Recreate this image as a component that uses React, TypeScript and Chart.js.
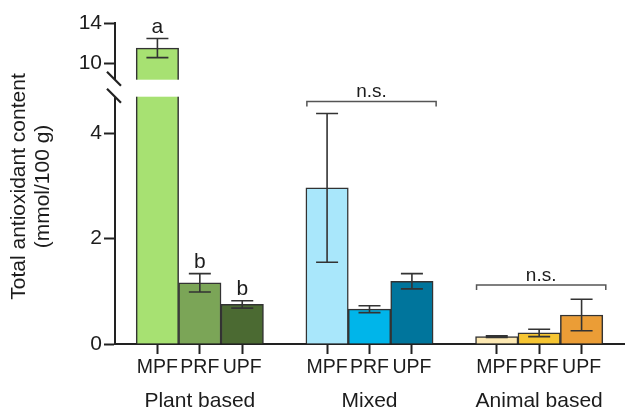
import { useEffect, useRef } from 'react';
import { Chart, registerables } from 'chart.js';

Chart.register(...registerables);

// ---- data ----
const groups = ['Plant based', 'Mixed', 'Animal based'];
const types = ['MPF', 'PRF', 'UPF'];

const plantMeans = [11.5, 1.16, 0.75];
const plantSD = [0.95, 0.175, 0.07];
const mixedMeans = [2.96, 0.66, 1.19];
const mixedSD = [1.41, 0.065, 0.145];
const animalMeans = [0.14, 0.21, 0.55];
const animalSD = [0.015, 0.07, 0.3];

const plantLetters = ['a', 'b', 'b'];
const mixedLetters = ['', '', ''];
const animalLetters = ['', '', ''];

const plantColors = ['#a7e172', '#7ba557', '#4b6a32'];
const mixedColors = ['#a9e7fb', '#00b5ea', '#00759c'];
const animalColors = ['#fde9b3', '#f6c532', '#eb9d36'];

const bracketGroups = [1, 2]; // Mixed, Animal based
const bracketLevels = [4.6, 1.12];
const bracketTexts = ['n.s.', 'n.s.'];

const lowerRange = [0, 4.87];
const upperRange = [7.6, 14];
const lowerTicks = [0, 2, 4];
const upperTicks = [10, 14];

const yTitle = ['Total antioxidant content', '(mmol/100 g)'];

// ---- build category table ----
const allMeans = [plantMeans, mixedMeans, animalMeans];
const allSD = [plantSD, mixedSD, animalSD];
const allColors = [plantColors, mixedColors, animalColors];
const allLetters = [plantLetters, mixedLetters, animalLetters];

const labels: string[] = [''];
const values: (number | null)[] = [null];
const sds: (number | null)[] = [null];
const colors: string[] = ['rgba(0,0,0,0)'];
const letters: string[] = [''];
const groupOf: number[] = [-1];
groups.forEach((_, g) => {
  types.forEach((t, i) => {
    labels.push(t);
    values.push(allMeans[g][i]);
    sds.push(allSD[g][i]);
    colors.push(allColors[g][i]);
    letters.push(allLetters[g][i]);
    groupOf.push(g);
  });
  labels.push('');
  values.push(null);
  sds.push(null);
  colors.push('rgba(0,0,0,0)');
  letters.push('');
  groupOf.push(-1);
});

const FONT = "'Liberation Sans', Arial, Helvetica, sans-serif";
const INK = '#1c1c1c';
const AXIS = '#222';
const BAR_BORDER = '#333';

const clipPlugin = {
  id: 'scaleClip',
  beforeDatasetDraw(chart: any, args: any) {
    const ys = args.meta.yScale;
    const ca = chart.chartArea;
    const ctx = chart.ctx;
    ctx.save();
    ctx.beginPath();
    ctx.rect(ca.left - 2, ys.top, ca.right - ca.left + 4, ys.bottom - ys.top);
    ctx.clip();
  },
  afterDatasetDraw(chart: any) {
    chart.ctx.restore();
  },
};

const overlayPlugin = {
  id: 'overlay',
  afterDatasetsDraw(chart: any) {
    const ctx = chart.ctx;
    const xs = chart.scales.x;
    const yLow = chart.scales.y;
    const yHigh = chart.scales.yTop;
    const ca = chart.chartArea;
    const pix = (v: number) => (v >= upperRange[0] ? yHigh.getPixelForValue(v) : yLow.getPixelForValue(v));
    const half = (xs.getPixelForValue(1) - xs.getPixelForValue(0)) / 2;

    // error bars, clipped per scale segment
    const capHalf = 11;
    [yLow, yHigh].forEach((sc: any) => {
      ctx.save();
      ctx.beginPath();
      ctx.rect(ca.left, sc.top, ca.right - ca.left, sc.bottom - sc.top);
      ctx.clip();
      ctx.strokeStyle = BAR_BORDER;
      ctx.lineWidth = 1.6;
      values.forEach((v, i) => {
        if (v == null) return;
        const sd = sds[i] as number;
        const x = xs.getPixelForValue(i);
        const yTopPx = sc.getPixelForValue(v + sd);
        const yBotPx = sc.getPixelForValue(v - sd);
        ctx.beginPath();
        ctx.moveTo(x, yTopPx);
        ctx.lineTo(x, yBotPx);
        ctx.moveTo(x - capHalf, yTopPx);
        ctx.lineTo(x + capHalf, yTopPx);
        ctx.moveTo(x - capHalf, yBotPx);
        ctx.lineTo(x + capHalf, yBotPx);
        ctx.stroke();
      });
      ctx.restore();
    });

    // axis break gap (over axis and over bars crossing the break)
    const boundary = yLow.top;
    const gapTop = boundary - 7.5;
    const gapBottom = boundary + 9.5;
    const ax = ca.left;
    ctx.save();
    ctx.fillStyle = '#ffffff';
    ctx.fillRect(ax - 4, gapTop, 8, gapBottom - gapTop);
    values.forEach((v, i) => {
      if (v == null || v <= lowerRange[1]) return;
      const x = xs.getPixelForValue(i);
      ctx.fillRect(x - half - 2, gapTop, 2 * half + 4, gapBottom - gapTop);
    });
    ctx.strokeStyle = AXIS;
    ctx.lineWidth = 2.2;
    [gapTop, gapBottom].forEach((gy) => {
      ctx.beginPath();
      ctx.moveTo(ax - 8, gy - 8);
      ctx.lineTo(ax + 6, gy + 6);
      ctx.stroke();
    });
    ctx.restore();

    // significance letters
    ctx.save();
    ctx.fillStyle = INK;
    ctx.font = `21px ${FONT}`;
    ctx.textAlign = 'center';
    ctx.textBaseline = 'alphabetic';
    values.forEach((v, i) => {
      if (v == null || !letters[i]) return;
      const sd = sds[i] as number;
      const x = xs.getPixelForValue(i);
      ctx.fillText(letters[i], x, pix(v + sd) - 6);
    });
    ctx.restore();

    // brackets
    ctx.save();
    ctx.strokeStyle = '#555';
    ctx.lineWidth = 1.5;
    ctx.fillStyle = INK;
    ctx.font = `19px ${FONT}`;
    ctx.textAlign = 'center';
    ctx.textBaseline = 'alphabetic';
    bracketGroups.forEach((g, k) => {
      const idx = groupOf.map((gg, i) => (gg === g ? i : -1)).filter((i) => i >= 0);
      const x0 = xs.getPixelForValue(idx[0]) - half + 1;
      const x1 = xs.getPixelForValue(idx[idx.length - 1]) + half + 3;
      const y = pix(bracketLevels[k]);
      ctx.beginPath();
      ctx.moveTo(x0, y + 5);
      ctx.lineTo(x0, y);
      ctx.lineTo(x1, y);
      ctx.lineTo(x1, y + 5);
      ctx.stroke();
      ctx.fillText(bracketTexts[k], (x0 + x1) / 2, y - 4);
    });
    ctx.restore();
  },
  afterDraw(chart: any) {
    const ctx = chart.ctx;
    const xs = chart.scales.x;
    const ca = chart.chartArea;
    // group labels
    ctx.save();
    ctx.fillStyle = INK;
    ctx.font = `21px ${FONT}`;
    ctx.textAlign = 'center';
    ctx.textBaseline = 'middle';
    groups.forEach((name, g) => {
      const idx = groupOf.map((gg, i) => (gg === g ? i : -1)).filter((i) => i >= 0);
      const mid = idx[Math.floor(idx.length / 2)];
      ctx.fillText(name, xs.getPixelForValue(mid), ca.bottom + 57);
    });
    ctx.restore();

    // y title
    ctx.save();
    ctx.fillStyle = INK;
    ctx.font = `21px ${FONT}`;
    ctx.textAlign = 'center';
    ctx.textBaseline = 'middle';
    const cy = (ca.top + ca.bottom) / 2 + 3;
    const lineXs = [19, 43];
    yTitle.forEach((line, k) => {
      ctx.save();
      ctx.translate(lineXs[k], cy);
      ctx.rotate(-Math.PI / 2);
      ctx.fillText(line, 0, 0);
      ctx.restore();
    });
    ctx.restore();
  },
};

export default function App() {
  const canvasRef = useRef<HTMLCanvasElement | null>(null);

  useEffect(() => {
    if (!canvasRef.current) return;
    const yCommon = (range: number[], tickVals: number[], weight: number) => ({
      type: 'linear' as const,
      position: 'left' as const,
      stack: 'v',
      stackWeight: weight,
      min: range[0],
      max: range[1],
      afterBuildTicks: (s: any) => {
        s.ticks = tickVals.map((v) => ({ value: v }));
      },
      afterFit: (s: any) => {
        s.width = 115;
      },
      border: { color: AXIS, width: 2 },
      grid: { drawOnChartArea: false, tickLength: 11, tickWidth: 2, color: AXIS },
      ticks: { color: INK, font: { family: FONT, size: 21 }, padding: 2 },
    });

    const ds = (axis: string) => ({
      data: values,
      yAxisID: axis,
      backgroundColor: colors,
      borderColor: BAR_BORDER,
      borderWidth: 1.5,
      grouped: false,
      barPercentage: 1,
      categoryPercentage: 1,
    });

    const chart = new Chart(canvasRef.current, {
      type: 'bar',
      data: { labels, datasets: [ds('y'), ds('yTop')] as any },
      options: {
        animation: false,
        responsive: false,
        layout: { padding: { top: 23, left: 0, right: 0, bottom: 0 } },
        plugins: { legend: { display: false }, tooltip: { enabled: false } },
        scales: {
          x: {
            type: 'category',
            offset: false,
            z: 1,
            afterFit: (s: any) => {
              s.height = 71;
            },
            border: { color: AXIS, width: 2 },
            grid: {
              offset: false,
              drawOnChartArea: false,
              tickLength: 10,
              tickWidth: 2,
              color: (c: any) => (labels[c.index] ? AXIS : 'rgba(0,0,0,0)'),
            },
            ticks: {
              autoSkip: false,
              maxRotation: 0,
              color: INK,
              font: { family: FONT, size: 19.5 },
              padding: 2,
            },
          },
          y: yCommon(lowerRange, lowerTicks, 4),
          yTop: yCommon(upperRange, upperTicks, 1),
        } as any,
      },
      plugins: [clipPlugin, overlayPlugin],
    });
    return () => chart.destroy();
  }, []);

  return (
    <div style={{ position: 'fixed', left: 0, top: 0, width: 626, height: 415, background: '#fff' }}>
      <canvas ref={canvasRef} width={626} height={415} style={{ display: 'block' }} />
    </div>
  );
}
